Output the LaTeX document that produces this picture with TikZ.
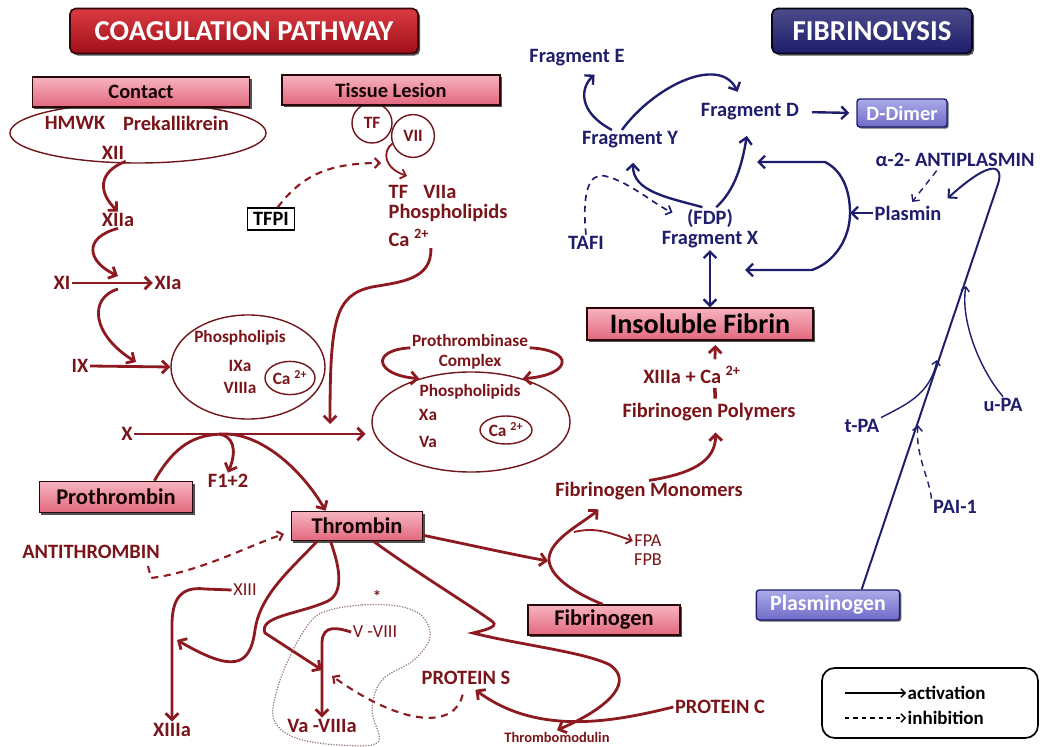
\documentclass[tikz,border=0pt]{standalone}
\usepackage{fontspec}
\setmainfont{Carlito}
\usepackage{tikz}
\usetikzlibrary{arrows.meta,shapes.geometric,shadows}
\definecolor{clotRed}{HTML}{8C1A20}
\definecolor{clotText}{HTML}{7A1419}
\definecolor{boxPink}{HTML}{E2687E}
\definecolor{boxPinkLight}{HTML}{F6B3BF}
\definecolor{titleRed}{HTML}{D41822}
\definecolor{titleRedDark}{HTML}{A00F18}
\definecolor{lysisNavy}{HTML}{1E1E6C}
\definecolor{lysisLilac}{HTML}{6F6BC8}
\definecolor{lysisLilacLight}{HTML}{ADAAE8}
\definecolor{blobGray}{HTML}{9C7B7E}

\begin{document}
\begin{tikzpicture}[x=0.025cm, y=-0.025cm,
  every node/.style={font=\bfseries\fontsize{14.5}{16}\selectfont, text=clotText, inner sep=1pt},
  smalllbl/.style={font=\bfseries\fontsize{12.3}{14}\selectfont},
  thinlbl/.style={font=\fontsize{13}{14}\selectfont},
  boxlbl/.style={font=\bfseries\fontsize{16}{18}\selectfont},
  navylbl/.style={text=lysisNavy},
  titlebox/.style={draw=black!75!titleRed, line width=1.2pt, rounded corners=4pt,
    top color=titleRed!85!white, bottom color=titleRedDark, text=white,
    font=\bfseries\fontsize{20.5}{22}\selectfont, minimum height=1.12cm,
    drop shadow={shadow xshift=1.5pt, shadow yshift=-1.5pt, fill=black!85, opacity=0.8}},
  pinkbox/.style={draw=black!70!clotRed, line width=1pt, top color=boxPinkLight, bottom color=boxPink,
    text=black!85!clotRed, minimum height=0.75cm,
    drop shadow={shadow xshift=1.5pt, shadow yshift=-1.5pt, fill=black!85, opacity=0.8}},
  lilacbox/.style={draw=lysisNavy, line width=1pt, rounded corners=2pt, top color=lysisLilacLight,
    bottom color=lysisLilac, text=white, minimum height=0.7cm,
    drop shadow={shadow xshift=1.2pt, shadow yshift=-1.2pt, fill=black!85, opacity=0.7}},
  ovalnode/.style={draw=clotRed!80!black, line width=1pt, ellipse, inner sep=0pt},
  redarrow/.style={draw=clotRed, line width=2pt, -{Straight Barb[length=4.5pt,width=9pt]}},
  redthin/.style={draw=clotRed, line width=1.3pt, -{Straight Barb[length=3.5pt,width=7pt]}},
  reddash/.style={draw=clotRed, line width=1.5pt, dash pattern=on 5pt off 4pt, -{Straight Barb[length=3.5pt,width=7pt]}},
  navyarrow/.style={draw=lysisNavy, line width=1.7pt, -{Straight Barb[length=4.5pt,width=9pt]}},
  navythin/.style={draw=lysisNavy, line width=1pt, -{Straight Barb[length=3pt,width=6pt]}},
  navydash/.style={draw=lysisNavy, line width=1.2pt, dash pattern=on 4.5pt off 3.5pt, -{Straight Barb[length=3.5pt,width=7pt]}},
  legendarrow/.style={draw=black, line width=1pt, -{Straight Barb[length=3pt,width=6pt]}}]
\useasboundingbox (0,0) rectangle (1051,747);

% titles
\node[titlebox, minimum width=8.7cm] (coagTitle) at (244,31) {COAGULATION PATHWAY};
\node[titlebox, minimum width=5.0cm, draw=black!80!lysisNavy, top color=lysisNavy!80!white, bottom color=lysisNavy] (lysisTitle) at (872,31) {FIBRINOLYSIS};

% contact pathway
\node[ovalnode, minimum width=6.4cm, minimum height=1.5cm] (contactOval) at (138,133) {};
\node[pinkbox, minimum width=5.43cm] (contact) at (141,92) {Contact};
\node (hmwk) at (75,123) {HMWK};
\node (prekal) at (176,123) {Prekallikrein};
\node (xii) at (113,153) {XII};
\node (xiia) at (118,220) {XIIa};
\node (xi) at (62,283) {XI};
\node (xia) at (168,283) {XIa};
\node (ix) at (80,366) {IX};
\node[ovalnode, minimum width=3.85cm, minimum height=2.6cm] (tenase) at (248,367) {};
\node[smalllbl] (phosA) at (240,338) {Phospholipis};
\node[smalllbl] (ixa) at (240,366) {IXa};
\node[smalllbl] (viiia) at (240,388) {VIIIa};
\node[ovalnode, smalllbl, minimum width=1.25cm, minimum height=0.83cm] (caA) at (290,378) {Ca \textsuperscript{2+}};
\node (x) at (127,434) {X};

% tissue lesion
\node[ovalnode, circle, smalllbl, minimum size=1.0cm] (tf) at (372,123) {TF};
\node[ovalnode, circle, smalllbl, minimum size=1.07cm] (vii) at (413,136) {VII};
\node[pinkbox, minimum width=5.45cm] (tissue) at (391,90) {Tissue Lesion};
\node[anchor=west] (tfviia) at (387,192) {TF\hspace{0.75em}VIIa};
\node[anchor=west] (phosB) at (387,213) {Phospholipids};
\node[anchor=west] (caB) at (387,238) {Ca \textsuperscript{2+}};
\node[draw=black, line width=1pt, text=black, minimum width=1.18cm, minimum height=0.55cm] (tfpi) at (271,219) {TFPI};

% prothrombinase
\node[ovalnode, minimum width=4.95cm, minimum height=2.5cm] (prothrombinase) at (471,422) {};
\node[smalllbl] (ptase) at (470,340) {Prothrombinase};
\node[smalllbl] (complex) at (470,362) {Complex};
\node[smalllbl] (phosC) at (470,392) {Phospholipids};
\node[smalllbl] (xa) at (428,415) {Xa};
\node[smalllbl] (va) at (428,442) {Va};
\node[ovalnode, smalllbl, minimum width=1.3cm, minimum height=0.7cm] (caC) at (506,430) {Ca \textsuperscript{2+}};

% thrombin and products
\node[pinkbox, boxlbl, minimum width=3.83cm, minimum height=0.78cm] (prothrombin) at (116,497) {Prothrombin};
\node (f12) at (228,481) {F1+2};
\node[pinkbox, boxlbl, minimum width=3.28cm, minimum height=0.73cm] (thrombin) at (357,526) {Thrombin};
\node (antithrombin) at (91,552) {ANTITHROMBIN};
\node[thinlbl] (xiii) at (245,590) {XIII};
\node (xiiia) at (172,730) {XIIIa};
\node[font=\bfseries\fontsize{12}{12}\selectfont] (star) at (377,596) {*};
\node[thinlbl] (vviii) at (375,632) {V -VIII};
\node (vaviiia) at (322,726) {Va -VIIIa};
\node (proteinS) at (466,678) {PROTEIN S};
\node (proteinC) at (720,707) {PROTEIN C};
\node[font=\bfseries\fontsize{10.3}{12}\selectfont] (thrombomod) at (557,737) {Thrombomodulin};
\node[pinkbox, boxlbl, minimum width=3.8cm] (fibrinogen) at (604,620) {Fibrinogen};
\node[thinlbl] (fpa) at (648,541) {FPA};
\node[thinlbl] (fpb) at (648,560) {FPB};
\node (monomers) at (649,491) {Fibrinogen Monomers};
\node (polymers) at (709,412) {Fibrinogen Polymers};
\node (xiiiaCa) at (692,375) {XIIIa + Ca \textsuperscript{2+}};
\node[pinkbox, minimum width=5.65cm, minimum height=0.8cm, text=black, font=\bfseries\fontsize{20}{22}\selectfont] (fibrin) at (700,324) {Insoluble Fibrin};

% fibrinolysis
\node[navylbl] (fragE) at (577,58) {Fragment E};
\node[navylbl] (fragY) at (630,140) {Fragment Y};
\node[navylbl] (fragD) at (750,112) {Fragment D};
\node[lilacbox, minimum width=2.25cm] (ddimer) at (902,113) {D-Dimer};
\node[navylbl] (fdp) at (710,218) {(FDP)};
\node[navylbl] (fragX) at (710,240) {Fragment X};
\node[navylbl] (tafi) at (586,243) {TAFI};
\node[navylbl] (antiplasmin) at (955,160) {α-2- ANTIPLASMIN};
\node[navylbl] (plasmin) at (908,213) {Plasmin};
\node[navylbl] (tpa) at (862,426) {t-PA};
\node[navylbl] (upa) at (1003,405) {u-PA};
\node[navylbl] (pai) at (955,507) {PAI-1};
\node[lilacbox, font=\bfseries\fontsize{15.5}{17}\selectfont, minimum width=3.58cm, minimum height=0.75cm] (plasminogen) at (828,605) {Plasminogen};

% legend
\draw[line width=1.2pt, rounded corners=9pt] (822,668) rectangle (1038,738);
\node[anchor=west, text=black, font=\bfseries\fontsize{13.5}{15}\selectfont] (legAct) at (906,693) {activation};
\node[anchor=west, text=black, font=\bfseries\fontsize{13.5}{15}\selectfont] (legInh) at (906,718) {inhibition};
\coordinate (legActStart) at (845,693);
\coordinate (legInhStart) at (845,718);
\draw[legendarrow] (legActStart) -- (legAct.west);
\draw[legendarrow, dashed] (legInhStart) -- (legInh.west);

% free ends
\coordinate (xiJoin) at (118,276);
\coordinate (xiOut) at (118,289);
\coordinate (ixJoin) at (136,362);
\coordinate (tfTip) at (407,176);
\coordinate (tfpiTip) at (381,163);
\coordinate (xJoin) at (330,424);
\coordinate (f12Start) at (219,434);
\coordinate (xiiiJoin) at (177,640);
\coordinate (vaTip) at (322,670);
\coordinate (psDashTip) at (332,676);
\coordinate (atStart) at (148,566);
\coordinate (fibJoin) at (548,561);
\coordinate (fpStart) at (574,532);
\coordinate (bracketTop) at (757,162);
\coordinate (bracketMid) at (850,213);
\coordinate (bracketBot) at (745,270);
\coordinate (tpaTip) at (937,360);
\coordinate (upaTip) at (966,286);
\coordinate (paiTip) at (918,425);

% coagulation connectors
\draw[redarrow] (xii.south east) .. controls (98,172) and (98,192) .. (xiia.north);
\draw[redarrow] (xiia.south) .. controls (82,238) and (88,262) .. (xiJoin);
\draw[redarrow] (xi.east) -- (xia.west);
\draw[redarrow] (xiOut) .. controls (88,298) and (92,335) .. (ixJoin);
\draw[redarrow] (ix.east) -- (tenase.west);
\draw[redthin] (vii.200) .. controls (382,152) and (384,168) .. (tfTip);
\draw[reddash] (tfpi.60) .. controls (300,178) and (325,163) .. (tfpiTip);
\draw[redarrow] (caB.south east) .. controls (432,280) and (400,282) .. (372,287) .. controls (335,295) and (330,320) .. (xJoin);
\draw[redarrow, shorten >=4pt] (x.east) -- (x.east -| prothrombinase.west);
\draw[redarrow] (ptase.south west) .. controls (370,350) and (375,375) .. (prothrombinase.140);
\draw[redarrow] (ptase.south east) .. controls (575,350) and (572,375) .. (prothrombinase.40);
\draw[redarrow] (prothrombin.23) .. controls (175,445) and (195,434) .. (225,434) .. controls (262,434) and (302,470) .. (thrombin.154);
\draw[redarrow] (f12Start) .. controls (232,436) and (238,448) .. (f12.north);
\draw[reddash, shorten >=5pt] (atStart) -- (151,578) .. controls (200,572) and (250,545) .. (thrombin.185);
\draw[redarrow] (thrombin.201) .. controls (290,570) and (260,595) .. (255,630) .. controls (250,668) and (232,672) .. (xiiiJoin);
\draw[redarrow] (xiii.west) -- (205,589) .. controls (180,586) and (172,600) .. (172,625) -- (xiiia.north);
\draw[redarrow] (thrombin.210) .. controls (339,565) and (345,592) .. (328,601) .. controls (300,614) and (258,616) .. (265,633) -- (vaTip);
\draw[redarrow] (vviii.west) .. controls (338,628) and (323,624) .. (322,642) -- (vaviiia.north);
\draw[reddash, shorten <=6pt] (proteinS.-100) .. controls (455,728) and (405,728) .. (psDashTip);
\draw[redarrow] (thrombin.-43) .. controls (420,575) and (470,605) .. (493,622) .. controls (498,627) and (485,630) .. (473,633) .. controls (520,645) and (585,652) .. (610,665) .. controls (632,680) and (615,705) .. (thrombomod.north);
\draw[redarrow, shorten >=4pt] (proteinC.west) .. controls (620,720) and (540,738) .. (proteinS.-60);
\draw[redarrow] (thrombin.-8) .. controls (470,545) and (515,555) .. (fibJoin);
\draw[redarrow, shorten >=8pt] (fibrinogen.95) .. controls (572,592) and (548,575) .. (549,558) .. controls (551,538) and (585,522) .. (monomers.-166);
\draw[redthin] (fpStart) .. controls (595,527) and (608,532) .. (fpa.west);
\draw[redarrow, shorten >=7pt] (monomers.north) .. controls (690,474) and (716,462) .. (polymers.-59);
\draw[clotRed, line width=2.5pt, shorten <=2pt, shorten >=2pt] (polymers.59) -- (xiiiaCa.-24);
\draw[redarrow, shorten <=4pt, shorten >=3pt] (xiiiaCa.24) -- (fibrin.-47);

% dotted region
\draw[blobGray, densely dotted, line width=0.9pt] plot[smooth cycle, tension=0.6] coordinates {(330,610) (362,605) (398,606) (422,616) (430,637) (414,660) (382,680) (372,710) (378,742) (340,745) (296,738) (274,720) (277,690) (292,652) (312,620)};

% fibrinolysis connectors
\draw[navyarrow, shorten <=8pt, shorten >=5pt] (fragD.east) -- (ddimer.west);
\draw[navyarrow, shorten >=7pt] (fragY.151) .. controls (578,112) and (580,88) .. (fragE.-22);
\draw[navyarrow, shorten >=8pt] (fragY.129) .. controls (655,85) and (720,55) .. (fragD.127);
\draw[navyarrow, shorten >=9pt] (fdp.125) .. controls (670,198) and (632,192) .. (fragY.-70);
\draw[navyarrow, shorten >=10pt] (fdp.60) .. controls (735,190) and (742,165) .. (fragD.-95);
\draw[navydash, shorten >=10pt] (tafi.north) .. controls (582,195) and (588,172) .. (605,176) .. controls (630,182) and (655,205) .. (fdp.west);
\draw[navyarrow, {Straight Barb[length=4.5pt,width=9pt]}-{Straight Barb[length=4.5pt,width=9pt]}] (fragX.south) -- (fragX.south |- fibrin.north);
\draw[navyarrow, {Straight Barb[length=4.5pt,width=9pt]}-{Straight Barb[length=4.5pt,width=9pt]}] (bracketTop) -- (825,162) .. controls (845,172) and (850,195) .. (bracketMid) .. controls (850,238) and (835,262) .. (812,270) -- (bracketBot);
\draw[navyarrow] (plasmin.west) -- (bracketMid);
\draw[navyarrow, line width=1.4pt, shorten >=6pt] (plasminogen.25) -- (998,184) .. controls (1004,165) and (992,158) .. (plasmin.15);
\draw[navydash, line width=1pt, shorten <=2pt, shorten >=2pt] (antiplasmin.-153) -- (plasmin.75);
\draw[navythin] (tpa.north east) .. controls (905,405) and (930,395) .. (tpaTip);
\draw[navythin] (upa.north) .. controls (980,370) and (960,320) .. (upaTip);
\draw[navydash, line width=1pt] (pai.north west) .. controls (930,480) and (915,455) .. (paiTip);
\end{tikzpicture}
\end{document}
